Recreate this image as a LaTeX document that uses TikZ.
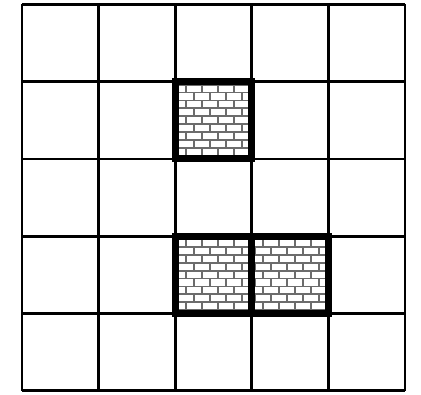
\documentclass[tikz,border=0pt]{standalone}
\tikzset{
  gridline/.style={line width=2.7pt, black},
  wallborder/.style={line width=7pt, black},
  brickline/.style={line width=1.8pt, gray!85!black}
}
\newcommand\brickfill[4]{%
\begin{scope}
\clip (#1,#2) rectangle (#3,#4);
\foreach \r in {0,...,11}{
  \pgfmathsetmacro\ya{#2+3+\r*7.9}
  \pgfmathsetmacro\yb{\ya+7.9}
  \draw[brickline] (#1-5,\ya) -- (#3+5,\ya);
  \pgfmathsetmacro\off{3+8*(1-mod(\r,2))}
  \foreach \c in {0,...,6}{
    \pgfmathsetmacro\xx{#1+\off+\c*16}
    \draw[brickline] (\xx,\ya) -- (\xx,\yb);
  }
}
\end{scope}}
\begin{document}
\begin{tikzpicture}[x=1pt,y=-1pt]
\useasboundingbox (0,0) rectangle (421,395);
\fill[white] (0,0) rectangle (421,395);
% grid
\foreach \i in {0,...,5}{
  \pgfmathsetmacro\gx{22+76.6*\i}
  \pgfmathsetmacro\gy{4.5+77.22*\i}
  \draw[gridline] (\gx,4.5) -- (\gx,390.6);
  \draw[gridline] (22,\gy) -- (405,\gy);
}
% brick cells
\brickfill{175.2}{81.7}{251.8}{158.9}
\brickfill{175.2}{236.1}{251.8}{313.4}
\brickfill{251.8}{236.1}{328.4}{313.4}
\draw[wallborder] (175.2,81.7) rectangle (251.8,158.9);
\draw[wallborder] (175.2,236.1) rectangle (251.8,313.4);
\draw[wallborder] (251.8,236.1) rectangle (328.4,313.4);
\end{tikzpicture}
\end{document}
